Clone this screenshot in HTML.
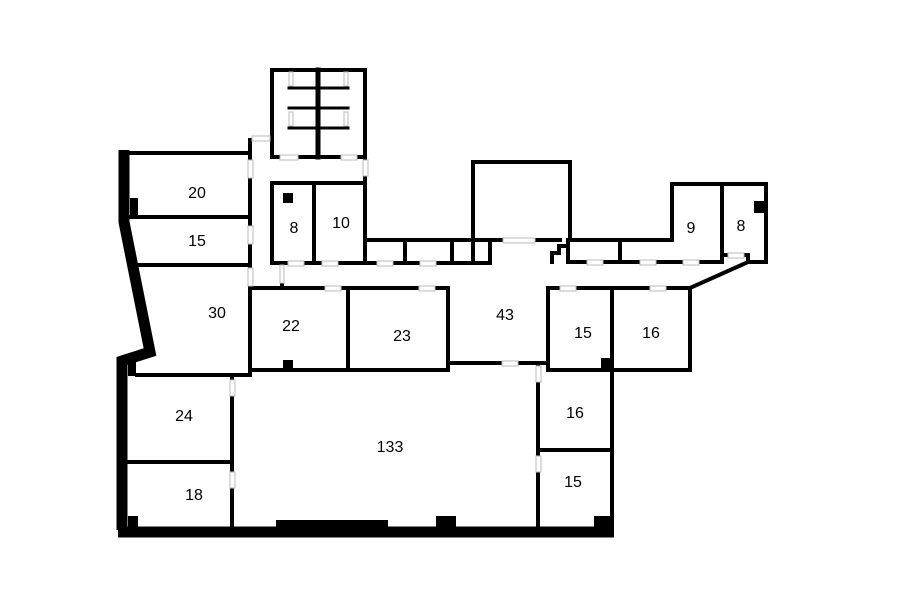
<!DOCTYPE html>
<html><head><style>html,body{margin:0;padding:0;background:#fff}svg{display:block}</style></head><body>
<svg width="900" height="604" viewBox="0 0 900 604" xmlns="http://www.w3.org/2000/svg">
<rect width="900" height="604" fill="#fff"/>
<g stroke="#000" stroke-width="4" fill="none" stroke-linecap="square">
<!-- left outer -->
<line x1="124" y1="153" x2="250" y2="153"/>
<polyline points="124,150 124,222 150,352 122,361 122,530" stroke-width="11" stroke-linecap="butt"/>
<line x1="118" y1="532" x2="614" y2="532" stroke-width="11" stroke-linecap="butt"/>
<!-- left rooms -->
<line x1="130" y1="217" x2="250" y2="217"/>
<line x1="135" y1="265" x2="250" y2="265"/>
<line x1="250" y1="140" x2="250" y2="375"/>
<line x1="137" y1="375" x2="250" y2="375"/>
<line x1="128" y1="462" x2="232" y2="462"/>
<line x1="232" y1="378" x2="232" y2="527"/>
<!-- stairs -->
<rect x="272" y="70" width="93" height="87"/>
<line x1="318" y1="70" x2="318" y2="157" stroke-width="5"/>
<line x1="289" y1="88" x2="348" y2="88" stroke-width="3"/>
<line x1="289" y1="108" x2="348" y2="108" stroke-width="3"/>
<line x1="289" y1="128" x2="348" y2="128" stroke-width="3"/>
<line x1="365" y1="157" x2="365" y2="183"/>
<!-- 8 / 10 -->
<rect x="272" y="183" width="93" height="80"/>
<line x1="314" y1="183" x2="314" y2="263"/>
<line x1="282" y1="263" x2="282" y2="285"/>
<!-- small rooms row -->
<polyline points="365,240 490,240 490,263 365,263"/>
<line x1="405" y1="240" x2="405" y2="263"/>
<line x1="452" y1="240" x2="452" y2="263"/>
<line x1="473" y1="240" x2="473" y2="263"/>
<!-- big block -->
<polyline points="473,240 473,162 570,162 570,240"/>
<line x1="490" y1="240" x2="560" y2="240"/>
<polyline points="552,262 552,253 559,253 559,246 568,246"/>
<!-- right row -->
<polyline points="568,240 672,240 672,184 766,184 766,262 748,262 690,288"/>
<line x1="568" y1="240" x2="568" y2="262"/>
<line x1="568" y1="262" x2="722" y2="262"/>
<line x1="620" y1="240" x2="620" y2="262"/>
<line x1="722" y1="184" x2="722" y2="262"/>
<line x1="722" y1="255" x2="748" y2="255"/>
<line x1="748" y1="255" x2="748" y2="262"/>
<!-- 15/16 right -->
<rect x="548" y="288" width="142" height="82"/>
<line x1="612" y1="288" x2="612" y2="370"/>
<!-- 22 / 23 -->
<rect x="250" y="288" width="198" height="82"/>
<line x1="348" y1="288" x2="348" y2="370"/>
<line x1="448" y1="363" x2="548" y2="363"/>
<!-- 133 right -->
<line x1="538" y1="363" x2="538" y2="527"/>
<line x1="612" y1="370" x2="612" y2="532"/>
<line x1="538" y1="450" x2="612" y2="450"/>
</g>
<g fill="#000">
<rect x="276" y="520" width="112" height="8"/>
<rect x="436" y="516" width="20" height="12"/>
<rect x="594" y="516" width="18" height="12"/>
<rect x="128" y="516" width="10" height="12"/>
<rect x="130" y="198" width="8" height="18"/>
<rect x="128" y="362" width="8" height="14"/>
<rect x="283" y="193" width="10" height="10"/>
<rect x="283" y="360" width="10" height="12"/>
<rect x="601" y="358" width="10" height="12"/>
<rect x="754" y="201" width="10" height="12"/>
</g>
<!-- doors -->
<g fill="#fff" stroke="#bbb" stroke-width="1">
<rect x="252" y="136" width="18" height="5"/>
<rect x="248" y="160" width="5" height="18"/>
<rect x="248" y="226" width="5" height="18"/>
<rect x="248" y="268" width="5" height="18"/>
<rect x="363" y="160" width="5" height="16"/>
<rect x="280" y="155" width="18" height="5"/>
<rect x="341" y="155" width="16" height="5"/>
<rect x="289" y="72" width="4" height="14"/>
<rect x="344" y="72" width="4" height="14"/>
<rect x="289" y="112" width="4" height="14"/>
<rect x="344" y="112" width="4" height="14"/>
<rect x="288" y="261" width="16" height="5"/>
<rect x="322" y="261" width="16" height="5"/>
<rect x="377" y="261" width="16" height="5"/>
<rect x="420" y="261" width="16" height="5"/>
<rect x="503" y="238" width="32" height="5"/>
<rect x="587" y="260" width="16" height="5"/>
<rect x="640" y="260" width="16" height="5"/>
<rect x="683" y="260" width="16" height="5"/>
<rect x="728" y="253" width="16" height="5"/>
<rect x="325" y="286" width="16" height="5"/>
<rect x="419" y="286" width="16" height="5"/>
<rect x="560" y="286" width="16" height="5"/>
<rect x="650" y="286" width="16" height="5"/>
<rect x="502" y="361" width="16" height="5"/>
<rect x="280" y="265" width="4" height="18"/>
<rect x="230" y="380" width="5" height="16"/>
<rect x="230" y="472" width="5" height="16"/>
<rect x="536" y="366" width="5" height="16"/>
<rect x="536" y="456" width="5" height="16"/>
</g>
<g font-family="Liberation Sans, sans-serif" font-size="16" text-anchor="middle" fill="#000">
<text x="197" y="198">20</text>
<text x="197" y="246">15</text>
<text x="217" y="318">30</text>
<text x="294" y="233">8</text>
<text x="341" y="228">10</text>
<text x="691" y="233">9</text>
<text x="741" y="231">8</text>
<text x="291" y="331">22</text>
<text x="402" y="341">23</text>
<text x="505" y="320">43</text>
<text x="583" y="338">15</text>
<text x="651" y="338">16</text>
<text x="184" y="421">24</text>
<text x="194" y="500">18</text>
<text x="390" y="452">133</text>
<text x="575" y="418">16</text>
<text x="573" y="487">15</text>
</g>
</svg>
</body></html>
